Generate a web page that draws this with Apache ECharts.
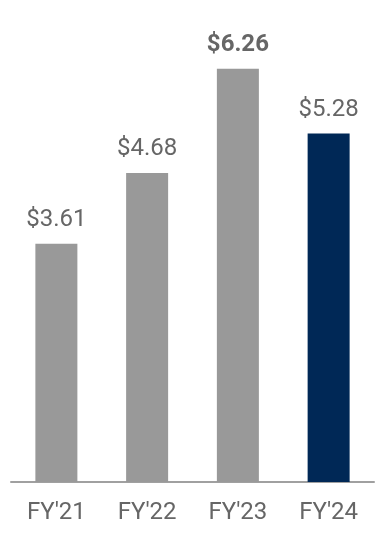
<!DOCTYPE html>
<html>
<head>
<meta charset="utf-8">
<script src="https://cdn.jsdelivr.net/npm/echarts@6/dist/echarts.min.js"></script>
<style>html,body{margin:0;padding:0;background:#fff}#c{width:384px;height:536px}</style>
</head>
<body>
<div id="c"></div>
<script>
var categories = ["FY'21", "FY'22", "FY'23", "FY'24"];
var values = [3.61, 4.68, 6.26, 5.28];
var barColors = ['#999999', '#999999', '#999999', '#002856'];
var boldFlags = [false, false, true, false];

var FONT = '"Liberation Sans Narrow", "Roboto", sans-serif';
var chart = echarts.init(document.getElementById('c'));
chart.setOption({
  animation: false,
  grid: { left: 11, right: 10, top: 20, bottom: 54 },
  xAxis: {
    type: 'category',
    data: categories,
    axisLine: { show: true, lineStyle: { color: '#a0a0a0', width: 2 } },
    axisTick: { show: false },
    axisLabel: { color: '#666666', fontSize: 24, fontFamily: FONT, margin: 19 }
  },
  yAxis: { type: 'value', min: 0, max: 7, show: false, splitLine: { show: false } },
  series: [{
    type: 'bar',
    barWidth: 42,
    data: values.map(function (v, i) {
      return {
        value: v,
        itemStyle: { color: barColors[i] },
        label: { fontWeight: boldFlags[i] ? 'bold' : 'normal' }
      };
    }),
    label: {
      show: true,
      position: 'top',
      distance: 12,
      color: '#666666',
      fontSize: 24,
      fontFamily: FONT,
      formatter: function (p) { return '$' + p.value.toFixed(2); }
    }
  }]
});
</script>
</body>
</html>
